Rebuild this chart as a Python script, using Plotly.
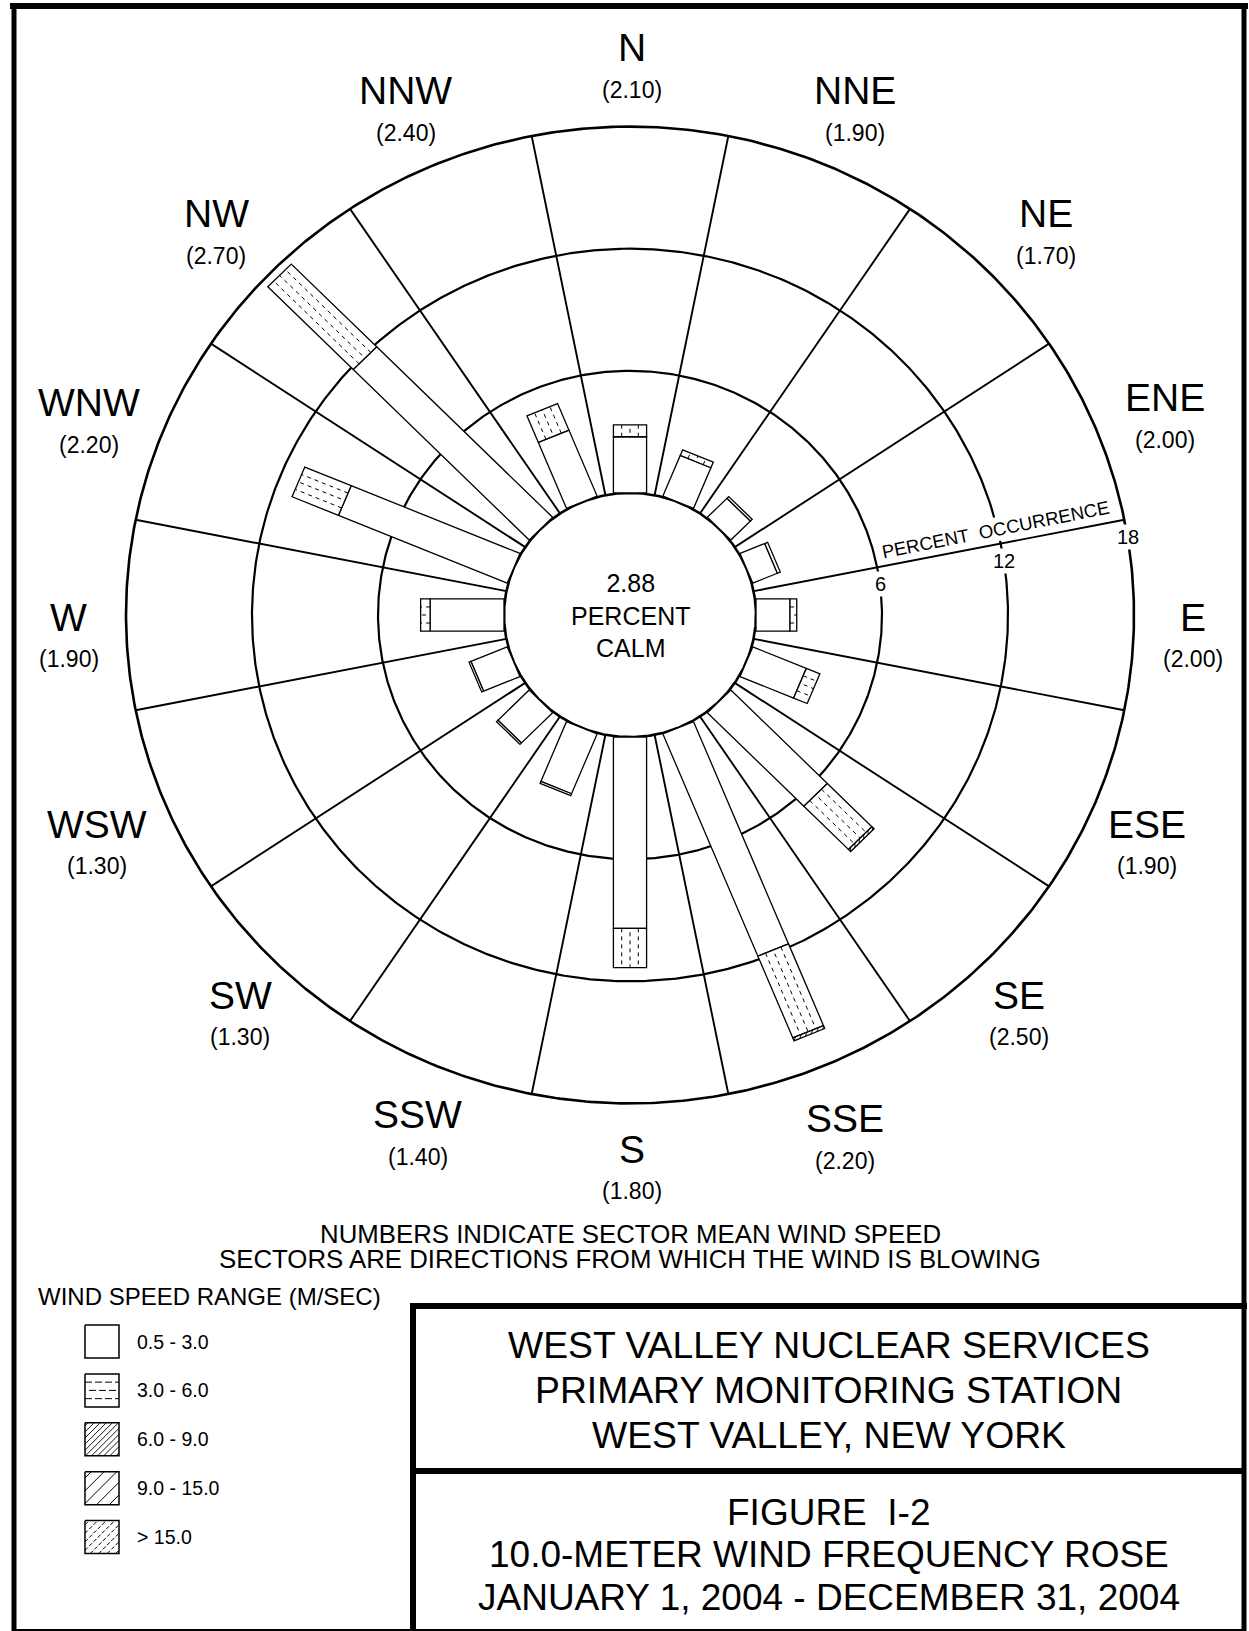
import math
import plotly.graph_objects as go

# ---------------- data ----------------
DIRECTIONS = ["N", "NNE", "NE", "ENE", "E", "ESE", "SE", "SSE",
              "S", "SSW", "SW", "WSW", "W", "WNW", "NW", "NNW"]
BEARINGS = [0.0, 22.5, 45.0, 67.5, 90.0, 112.5, 135.0, 157.5,
            180.0, 202.5, 225.0, 247.5, 270.0, 292.5, 315.0, 337.5]
MEAN_SPEED = [2.10, 1.90, 1.70, 2.00, 2.00, 1.90, 2.50, 2.20,
              1.80, 1.40, 1.30, 1.30, 1.90, 2.20, 2.70, 2.40]

SPEED_RANGES = ["0.5 - 3.0", "3.0 - 6.0", "6.0 - 9.0", "9.0 - 15.0", "> 15.0"]
PCT_0_5_TO_3 = [2.76, 2.16, 1.32, 1.27, 1.62, 2.76, 6.50, 11.82,
                9.40, 3.18, 2.10, 1.87, 3.52, 8.70, 11.85, 3.51]
PCT_3_TO_6 = [0.58, 0.30, 0.12, 0.15, 0.32, 0.70, 3.00, 4.35,
              1.93, 0.10, 0.10, 0.10, 0.45, 2.39, 5.75, 1.41]
PCT_6_TO_9 = [0.0, 0.0, 0.0, 0.0, 0.0, 0.0, 0.15, 0.15,
              0.0, 0.0, 0.0, 0.0, 0.0, 0.0, 0.0, 0.0]
PCT_9_TO_15 = [0.0, 0.0, 0.0, 0.0, 0.0, 0.0, 0.0, 0.0,
               0.0, 0.0, 0.0, 0.0, 0.0, 0.0, 0.0, 0.0]
PCT_OVER_15 = [0.0, 0.0, 0.0, 0.0, 0.0, 0.0, 0.0, 0.0,
               0.0, 0.0, 0.0, 0.0, 0.0, 0.0, 0.0, 0.0]
CALM_PCT = 2.88
RING_TICKS = [6, 12, 18]

TITLE_LINES_TOP = ["WEST VALLEY NUCLEAR SERVICES", "PRIMARY MONITORING STATION",
                   "WEST VALLEY, NEW YORK"]
TITLE_LINES_BOTTOM = ["FIGURE\u00a0 I-2", "10.0-METER WIND FREQUENCY ROSE",
                      "JANUARY 1, 2004 - DECEMBER 31, 2004"]
NOTE_LINES = ["NUMBERS INDICATE SECTOR MEAN WIND SPEED",
              "SECTORS ARE DIRECTIONS FROM WHICH THE WIND IS BLOWING"]

# ---------------- layout constants ----------------
FIG_W, FIG_H = 1249, 1631
CX, CY = 630.0, 615.0            # rose centre on the page (px)
PX_X, PX_Y = 21.0, 20.35         # px per percent, horizontal / vertical
UNIT = 0.5 * (PX_X + PX_Y)
HOLE = 6.0                       # calm-circle radius in percent units
BAR_HALF = 0.79                  # half bar width in percent units
LABEL_R = 27.05
SCALE_AXIS = 78.75               # sector edge carrying the percent scale
FONT = "Liberation Sans, Arial, Helvetica, sans-serif"
RMAX = RING_TICKS[-1]

# per-sector placement tweaks for the compass labels (px: right, down)
LABEL_NUDGE = [(2, 0), (8, 0), (14, 0), (10, 0), (-5, 2), (-8, 5), (-13, 3), (-2, 11),
               (2, 1), (5, 7), (12, 3), (-8, 5), (7, 2), (-16, 5), (-12, 0), (-7, 0)]

SERIES = [PCT_0_5_TO_3, PCT_3_TO_6, PCT_6_TO_9, PCT_9_TO_15, PCT_OVER_15]

fig = go.Figure()


def rose_xy(bearing, along, lateral=0.0):
    t = math.radians(bearing)
    s, c = math.sin(t), math.cos(t)
    return along * s + lateral * c, along * c - lateral * s


def add_path(xs, ys, width, dash=None, fill=None, axes=("x", "y")):
    fig.add_trace(go.Scatter(
        x=xs, y=ys, mode="lines",
        line=dict(color="black", width=width, dash=dash),
        fill=fill, fillcolor="white" if fill else None,
        hoverinfo="skip", showlegend=False,
        xaxis=axes[0], yaxis=axes[1]))


# ---------------- grid: calm circle, rings, sector edges ----------------
def ring(radius, n=721):
    xs, ys = [], []
    for i in range(n):
        t = 2 * math.pi * i / (n - 1)
        xs.append(radius * math.sin(t))
        ys.append(radius * math.cos(t))
    return xs, ys


sx, sy = [], []
for b in BEARINGS:
    edge = b + 11.25
    x0, y0 = rose_xy(edge, HOLE)
    x1, y1 = rose_xy(edge, HOLE + RMAX)
    sx += [x0, x1, None]
    sy += [y0, y1, None]
add_path(sx, sy, 1.9)

for t in RING_TICKS:
    xs, ys = ring(HOLE + t)
    add_path(xs, ys, 2.6 if t == RMAX else 2.2)
xs, ys = ring(HOLE)
add_path(xs, ys, 2.6)


# ---------------- hatching helpers ----------------
def diagonal_segments(a0, a1, half, step):
    segs = []
    d = step * math.sqrt(2)
    c = a0 - half + d * 0.5
    while c < a1 + half:
        lo = max(-half, a0 - c)
        hi = min(half, a1 - c)
        if hi - lo > 1e-6:
            segs.append(((c + lo, lo), (c + hi, hi)))
        c += d
    return segs


def hatch(k, a0, a1, half, unit):
    """Pattern strokes for speed class k in a local (along, lateral) frame."""
    if k == 1:
        if (a1 - a0) * unit < 4:
            return "none", []
        segs = []
        for j, off in enumerate([-0.5 * half, 0.0, 0.5 * half]):
            start = a0 + (4.0 / unit if j == 1 else 0.0)
            if a1 > start:
                segs.append(((start, off), (a1, off)))
        return "dash", segs
    if k == 2:
        return "dense", diagonal_segments(a0, a1, half, 4.3 / unit)
    if k == 3:
        return "wide", diagonal_segments(a0, a1, half, 9.0 / unit)
    if k == 4:
        return "dashdiag", diagonal_segments(a0, a1, half, 6.0 / unit)
    return "none", []


STYLES = {"dash": (1.0, "4px,4px"), "dense": (0.9, None),
          "wide": (1.0, None), "dashdiag": (1.0, "4px,2px")}

# ---------------- bars ----------------
outlines = {k: ([], []) for k in range(len(SERIES))}
strokes = {}
for i, b in enumerate(BEARINGS):
    a = HOLE
    for k, series in enumerate(SERIES):
        v = series[i]
        if v <= 0:
            continue
        a0, a1 = a, a + v
        ox, oy = outlines[k]
        for al, la in [(a0, -BAR_HALF), (a1, -BAR_HALF), (a1, BAR_HALF),
                       (a0, BAR_HALF), (a0, -BAR_HALF)]:
            px_, py_ = rose_xy(b, al, la)
            ox.append(px_)
            oy.append(py_)
        ox.append(None)
        oy.append(None)
        style, segs = hatch(k, a0, a1, BAR_HALF, UNIT)
        for (p0, q0), (p1, q1) in segs:
            hx, hy = strokes.setdefault(style, ([], []))
            x0, y0 = rose_xy(b, p0, q0)
            x1, y1 = rose_xy(b, p1, q1)
            hx += [x0, x1, None]
            hy += [y0, y1, None]
        a = a1

for k in range(len(SERIES)):
    ox, oy = outlines[k]
    if ox:
        add_path(ox, oy, 1.3, fill="toself")
for style, (hx, hy) in strokes.items():
    w, d = STYLES[style]
    add_path(hx, hy, w, dash=d)

# ---------------- legend swatches (page pixel axes) ----------------
LEG_X = 85.0
LEG_Y0 = 1341.5
LEG_DY = 48.9
SW_W, SW_H = 34.0, 33.0
PAGE = ("x2", "y2")

leg_strokes = {}
for k, label in enumerate(SPEED_RANGES):
    yc = LEG_Y0 + k * LEG_DY
    half = SW_H / 2
    bx = [LEG_X, LEG_X + SW_W, LEG_X + SW_W, LEG_X, LEG_X]
    by = [yc - half, yc - half, yc + half, yc + half, yc - half]
    add_path(bx, by, 1.5, fill="toself", axes=PAGE)
    style, segs = hatch(k, 0.0, SW_W, half, 1.0)
    for (p0, q0), (p1, q1) in segs:
        hx, hy = leg_strokes.setdefault(style, ([], []))
        hx += [LEG_X + p0, LEG_X + p1, None]
        hy += [yc - q0, yc - q1, None]
    fig.add_annotation(x=LEG_X + 50, y=yc, xref="x2", yref="y2", text=label,
                       xanchor="left", showarrow=False,
                       font=dict(size=19.5, color="black", family=FONT))
for style, (hx, hy) in leg_strokes.items():
    w, d = STYLES[style]
    if style == "dash":
        d = "7px,3px"
    add_path(hx, hy, w, dash=d, axes=PAGE)

fig.add_annotation(x=36, y=1296, xref="x2", yref="y2",
                   text="WIND SPEED RANGE (M/SEC)", xanchor="left",
                   showarrow=False, font=dict(size=24, color="black", family=FONT))

# ---------------- rose labels ----------------
for name, b, spd, (nx, ny) in zip(DIRECTIONS, BEARINGS, MEAN_SPEED, LABEL_NUDGE):
    x, y = rose_xy(b, LABEL_R)
    lift = 17 * abs(math.cos(math.radians(b))) - ny
    fig.add_annotation(x=x, y=y, xshift=nx, yshift=lift, text=name,
                       showarrow=False,
                       font=dict(size=39, color="black", family=FONT))
    fig.add_annotation(x=x, y=y, xshift=nx, yshift=lift - 42,
                       text=f"({spd:.2f})", showarrow=False,
                       font=dict(size=23, color="black", family=FONT))

fig.add_annotation(x=0, y=0, text=f"{CALM_PCT:.2f}<br>PERCENT<br>CALM",
                   showarrow=False,
                   font=dict(size=25, color="black", family=FONT))

ox_, oy_ = rose_xy(SCALE_AXIS, HOLE + 11.9, -0.7)
fig.add_annotation(x=ox_, y=oy_, text="PERCENT\u00a0 OCCURRENCE", showarrow=False,
                   textangle=-(90 - SCALE_AXIS), bgcolor="white", borderpad=1,
                   font=dict(size=18.5, color="black", family=FONT))
for t in RING_TICKS:
    lx, ly = rose_xy(SCALE_AXIS, HOLE + t, 0.85)
    fig.add_annotation(x=lx, y=ly, text=str(t), showarrow=False,
                       bgcolor="white", borderpad=1,
                       font=dict(size=20, color="black", family=FONT))

# ---------------- notes and title block ----------------
for j, line in enumerate(NOTE_LINES):
    fig.add_annotation(x=CX, y=1234 + j * 24.5, xref="x2", yref="y2", text=line,
                       showarrow=False,
                       font=dict(size=25.8, color="black", family=FONT))

BOX_L, BOX_R = 413.0, 1244.0
BOX_MID = 0.5 * (BOX_L + BOX_R)
for j, line in enumerate(TITLE_LINES_TOP):
    fig.add_annotation(x=BOX_MID, y=1345 + j * 45, xref="x2", yref="y2",
                       text=line, showarrow=False,
                       font=dict(size=37.3, color="black", family=FONT))
for j, line in enumerate(TITLE_LINES_BOTTOM):
    fig.add_annotation(x=BOX_MID, y=1512 + j * 42.5, xref="x2", yref="y2",
                       text=line, showarrow=False,
                       font=dict(size=37, color="black", family=FONT))

frame = [
    (10, 6, 1248, 6, 6),          # top border
    (14, 3, 14, FIG_H, 5),        # left border
    (1244, 3, 1244, FIG_H, 5),    # right border
    (14, 1630, 1244, 1630, 2),    # bottom border
    (BOX_L, 1303, BOX_L, FIG_H, 6),
    (BOX_L - 3, 1306, 1247, 1306, 6),
    (BOX_L, 1471, BOX_R, 1471, 6),
]
for x0, y0, x1, y1, w in frame:
    fig.add_shape(type="line", x0=x0, y0=y0, x1=x1, y1=y1, xref="x2", yref="y2",
                  line=dict(color="black", width=w))

fig.update_layout(
    width=FIG_W, height=FIG_H,
    margin=dict(l=0, r=0, t=0, b=0),
    paper_bgcolor="white", plot_bgcolor="white",
    showlegend=False,
    font=dict(family=FONT, color="black"),
    xaxis=dict(range=[-CX / PX_X, (FIG_W - CX) / PX_X], visible=False,
               fixedrange=True),
    yaxis=dict(range=[-(FIG_H - CY) / PX_Y, CY / PX_Y], visible=False,
               fixedrange=True),
    xaxis2=dict(range=[0, FIG_W], overlaying="x", anchor="y2", visible=False,
                fixedrange=True),
    yaxis2=dict(range=[FIG_H, 0], overlaying="y", anchor="x2", visible=False,
                fixedrange=True),
)

fig.write_html("out.html")
